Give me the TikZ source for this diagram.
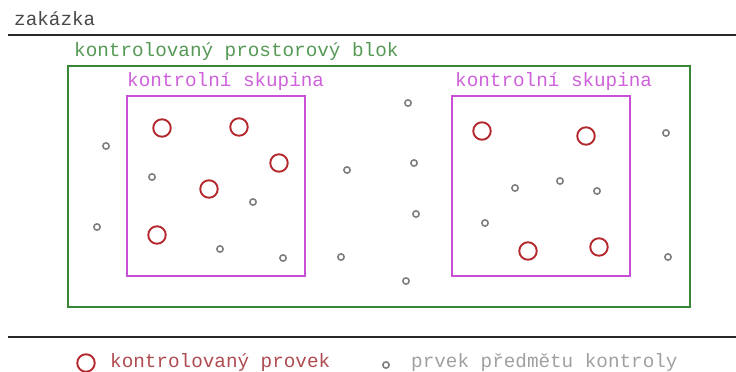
\documentclass[tikz,border=0pt]{standalone}
\usepackage{fontspec}
\setmonofont{Liberation Mono}
\begin{document}
\begin{tikzpicture}[x=1pt,y=-1pt,
  lbl/.style={font=\ttfamily\fontsize{19.3pt}{22pt}\selectfont, anchor=base west, inner sep=0pt},
  ctrl/.style={circle, draw=ctrlred, line width=1.9pt, minimum size=17.5pt, inner sep=0pt},
  item/.style={circle, draw=itemgray, line width=1.6pt, minimum size=6.3pt, inner sep=0pt},
  rule/.style={draw=rulegray, line width=2pt},
  blockbox/.style={draw=blockgreen, line width=2pt},
  groupbox/.style={draw=groupmag, line width=2pt}]
\definecolor{ctrlred}{RGB}{180,40,45}
\definecolor{itemgray}{RGB}{128,128,128}
\definecolor{rulegray}{RGB}{40,40,40}
\definecolor{blockgreen}{RGB}{55,135,55}
\definecolor{groupmag}{RGB}{200,80,215}
\definecolor{legendred}{RGB}{175,75,80}
\useasboundingbox (0,0) rectangle (736,372);

% order line and its label
\node[lbl, text=rulegray!85!white] (order) at (14,25) {zakázka};
\coordinate (ruleTopL) at (8,35);
\coordinate (ruleTopR) at (736,35);
\path[rule] (ruleTopL) -- (ruleTopR);

% controlled spatial block
\node[lbl, text=blockgreen!85!white] (blocklbl) at (74,56) {kontrolovaný prostorový blok};
\coordinate (blockNW) at (68,66);
\coordinate (blockSE) at (690,307);
\path[blockbox] (blockNW) rectangle (blockSE);

% control groups
\node[lbl, text=groupmag!90!white] (grpAlbl) at (127,86) {kontrolní skupina};
\coordinate (grpANW) at (127,96);
\coordinate (grpASE) at (305,276);
\path[groupbox] (grpANW) rectangle (grpASE);

\node[lbl, text=groupmag!90!white] (grpBlbl) at (455,86) {kontrolní skupina};
\coordinate (grpBNW) at (452,96);
\coordinate (grpBSE) at (630,276);
\path[groupbox] (grpBNW) rectangle (grpBSE);

% controlled items
\node[ctrl] (c1) at (162,128) {};
\node[ctrl] (c2) at (239,127) {};
\node[ctrl] (c3) at (279,163) {};
\node[ctrl] (c4) at (209,189) {};
\node[ctrl] (c5) at (157,235) {};
\node[ctrl] (c6) at (482,131) {};
\node[ctrl] (c7) at (586,136) {};
\node[ctrl] (c8) at (528,251) {};
\node[ctrl] (c9) at (599,247) {};

% items subject to control
\node[item] (i1) at (106,146) {};
\node[item] (i2) at (152,177) {};
\node[item] (i3) at (253,202) {};
\node[item] (i4) at (97,227) {};
\node[item] (i5) at (220,249) {};
\node[item] (i6) at (283,258) {};
\node[item] (i7) at (347,170) {};
\node[item] (i8) at (341,257) {};
\node[item] (i9) at (408,103) {};
\node[item] (i10) at (414,163) {};
\node[item] (i11) at (416,214) {};
\node[item] (i12) at (406,281) {};
\node[item] (i13) at (515,188) {};
\node[item] (i14) at (560,181) {};
\node[item] (i15) at (597,191) {};
\node[item] (i16) at (485,223) {};
\node[item] (i17) at (666,133) {};
\node[item] (i18) at (668,257) {};

% legend
\coordinate (ruleBotL) at (8,337);
\coordinate (ruleBotR) at (736,337);
\path[rule] (ruleBotL) -- (ruleBotR);
\node[ctrl] (legC) at (86,363) {};
\node[lbl, text=legendred] (legCtxt) at (110,367) {kontrolovaný provek};
\node[item] (legI) at (386,365) {};
\node[lbl, text=itemgray!75!white] (legItxt) at (411,367) {prvek předmětu kontroly};
\end{tikzpicture}
\end{document}
